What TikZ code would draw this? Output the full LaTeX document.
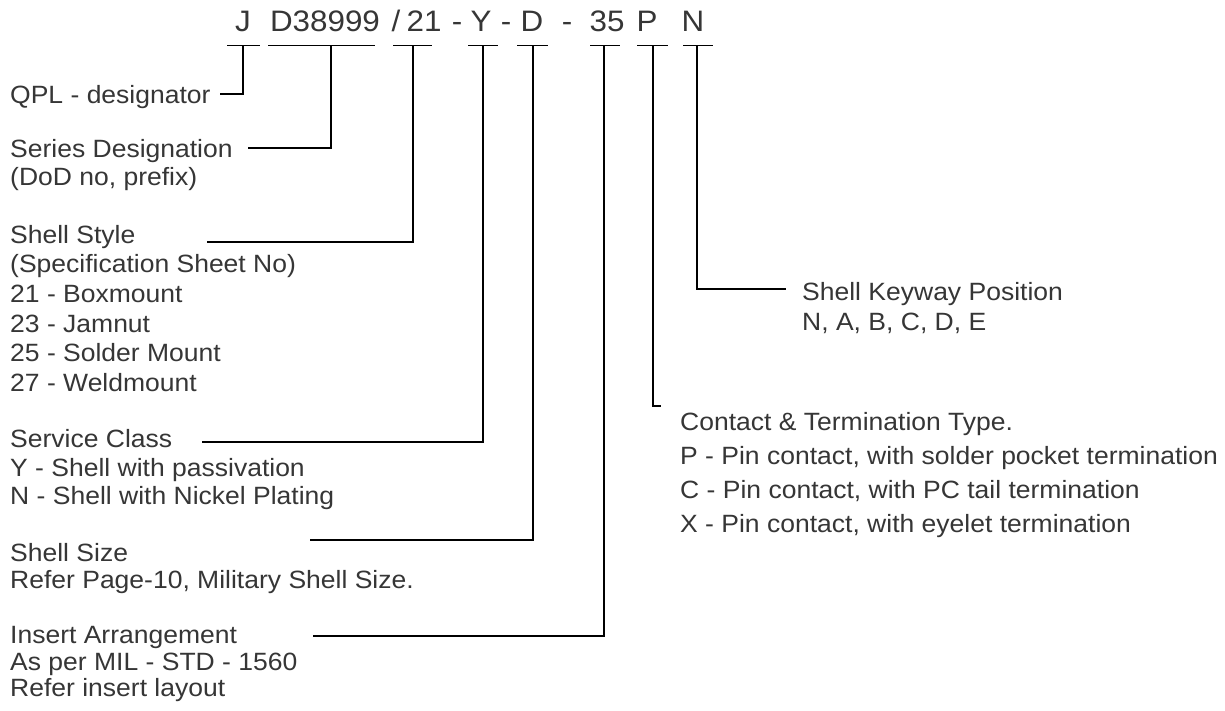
\documentclass[tikz,border=0pt]{standalone}
\usepackage{fontspec}
\setmainfont{Liberation Sans}[FakeStretch=1.06]
\definecolor{txt}{HTML}{363636}
\tikzset{
  lbl/.style={anchor=base west, inner sep=0pt, text=txt, font=\fontsize{25}{30}\selectfont},
  code/.style={anchor=base, inner sep=0pt, text=txt, font=\fontsize{29.6}{34}\selectfont},
  ln/.style={line width=1.5pt, black}
}
\begin{document}
\begin{tikzpicture}[x=1pt,y=-1pt]
\fill[white] (0,0) rectangle (1225,710);
\useasboundingbox (0,0) rectangle (1225,710);

% top code
\node[code] (tJ)  at (243,31) {J};
\node[code] (tD3) at (325,31) {D38999};
\node[code] (tSl) at (396,31) {/};
\node[code] (t21) at (424,31) {21};
\node[code] (tm1) at (457,31) {-};
\node[code] (tY)  at (481,31) {Y};
\node[code] (tm2) at (506,31) {-};
\node[code] (tD)  at (532,31) {D};
\node[code] (tm3) at (567,31) {-};
\node[code] (t35) at (607,31) {35};
\node[code] (tP)  at (647,31) {P};
\node[code] (tN)  at (693,31) {N};

% underline coordinates
\coordinate (uJa) at (227,45.5);  \coordinate (uJb) at (260,45.5);  \coordinate (vJ) at (243,45.5);
\coordinate (uDa) at (268,45.5);  \coordinate (uDb) at (375,45.5);  \coordinate (vD3) at (331,45.5);
\coordinate (u2a) at (393,45.5);  \coordinate (u2b) at (432,45.5);  \coordinate (v21) at (413,45.5);
\coordinate (uYa) at (468,45.5);  \coordinate (uYb) at (498,45.5);  \coordinate (vY) at (483,45.5);
\coordinate (uSa) at (517,45.5);  \coordinate (uSb) at (548,45.5);  \coordinate (vD) at (533,45.5);
\coordinate (u3a) at (590,45.5);  \coordinate (u3b) at (620,45.5);  \coordinate (v35) at (604,45.5);
\coordinate (uPa) at (637,45.5);  \coordinate (uPb) at (668,45.5);  \coordinate (vP) at (653,45.5);
\coordinate (uNa) at (683,45.5);  \coordinate (uNb) at (713,45.5);  \coordinate (vN) at (697,45.5);

\foreach \a/\b in {uJa/uJb,uDa/uDb,u2a/u2b,uYa/uYb,uSa/uSb,u3a/u3b,uPa/uPb,uNa/uNb}
  \draw[ln] (\a) -- (\b);

% left labels
\node[lbl] (qpl) at (10,103) {QPL - designator};
\node[lbl] (ser1) at (10,157) {Series Designation};
\node[lbl] (ser2) at (10,185) {(DoD no, prefix)};
\node[lbl] (sty1) at (10,243) {Shell Style};
\node[lbl] (sty2) at (10,272) {(Specification Sheet No)};
\node[lbl] (sty3) at (10,302) {21 - Boxmount};
\node[lbl] (sty4) at (10,332) {23 - Jamnut};
\node[lbl] (sty5) at (10,361) {25 - Solder Mount};
\node[lbl] (sty6) at (10,391) {27 - Weldmount};
\node[lbl] (cls1) at (10,447) {Service Class};
\node[lbl] (cls2) at (10,476) {Y - Shell with passivation};
\node[lbl] (cls3) at (10,504) {N - Shell with Nickel Plating};
\node[lbl] (siz1) at (10,561) {Shell Size};
\node[lbl] (siz2) at (10,588) {Refer Page-10, Military Shell Size.};
\node[lbl] (ins1) at (10,643) {Insert Arrangement};
\node[lbl] (ins2) at (10,670) {As per MIL - STD - 1560};
\node[lbl] (ins3) at (10,696) {Refer insert layout};

% right labels
\node[lbl] (key1) at (802,300) {Shell Keyway Position};
\node[lbl] (key2) at (802,330) {N, A, B, C, D, E};
\node[lbl] (con1) at (680,430) {Contact \& Termination Type.};
\node[lbl] (con2) at (680,464) {P - Pin contact, with solder pocket termination};
\node[lbl] (con3) at (680,498) {C - Pin contact, with PC tail termination};
\node[lbl] (con4) at (680,532) {X - Pin contact, with eyelet termination};

% connector ends
\coordinate (eJ)  at (220,94);
\coordinate (eD3) at (248,148);
\coordinate (e21) at (207,242);
\coordinate (eY)  at (202,442);
\coordinate (eD)  at (310,540);
\coordinate (e35) at (313,636);
\coordinate (eP)  at (661,406);
\coordinate (eN)  at (786,289);

\draw[ln] (vJ)  |- (eJ);
\draw[ln] (vD3) |- (eD3);
\draw[ln] (v21) |- (e21);
\draw[ln] (vY)  |- (eY);
\draw[ln] (vD)  |- (eD);
\draw[ln] (v35) |- (e35);
\draw[ln] (vP)  |- (eP);
\draw[ln] (vN)  |- (eN);
\end{tikzpicture}
\end{document}
